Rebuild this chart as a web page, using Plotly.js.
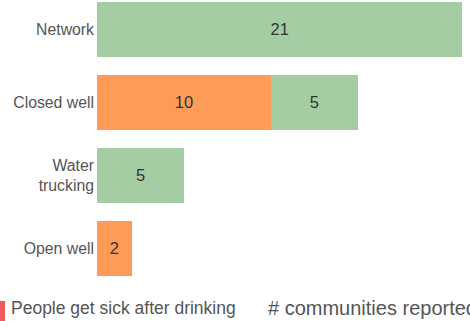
<!DOCTYPE html>
<html>
<head>
<meta charset="utf-8">
<script src="https://cdn.plot.ly/plotly-3.0.1.min.js"></script>
<style>html,body{margin:0;padding:0;background:#fff;overflow:hidden}#chart{width:470px;height:321px}</style>
</head>
<body>
<div id="chart"></div>
<script>
const categories = ["Network", "Closed well", "Water<br>trucking", "Open well"];
const sickValues = [null, 10, null, 2];
const reportedValues = [21, 5, 5, null];
const seriesNames = ["People get sick after drinking", "# communities reported"];
const seriesColors = ["#fe9b56", "#a4cda4"];
const legendSwatchColor = "#ef5a5a";

const FONT = "'Liberation Sans', Arial, sans-serif";

const traces = [
  {
    type: "bar", orientation: "h", name: seriesNames[0],
    y: categories, x: sickValues,
    marker: {color: seriesColors[0]},
    text: sickValues.map(v => v == null ? "" : String(v)),
    textposition: "inside", insidetextanchor: "middle",
    textfont: {family: FONT, size: 16.5, color: "#333333"},
    hoverinfo: "none"
  },
  {
    type: "bar", orientation: "h", name: seriesNames[1],
    y: categories, x: reportedValues,
    marker: {color: seriesColors[1]},
    text: reportedValues.map(v => v == null ? "" : String(v)),
    textposition: "inside", insidetextanchor: "middle",
    textfont: {family: FONT, size: 16.5, color: "#333333"},
    hoverinfo: "none"
  }
];

const plotW = 373, plotH = 285, left = 97;
const px = p => (p - left) / plotW;
const py = p => (plotH - p) / plotH;

const layout = {
  width: 470, height: 321,
  margin: {l: 97, r: 0, t: 0, b: 36, pad: 0},
  paper_bgcolor: "#ffffff", plot_bgcolor: "#ffffff",
  barmode: "stack", bargap: 0.25,
  showlegend: false,
  font: {family: FONT, color: "#555555"},
  xaxis: {range: [0, 21.44], visible: false, showgrid: false, zeroline: false, fixedrange: true},
  yaxis: {
    type: "category", categoryorder: "array", categoryarray: categories,
    range: [3.5, -0.404], showgrid: false, zeroline: false, showline: false,
    ticks: "", tickfont: {family: FONT, size: 15.8, color: "#555555"}, ticklabelstandoff: 2
  },
  shapes: [
    {type: "rect", xref: "paper", yref: "paper", x0: px(0), x1: px(5), y0: py(301), y1: py(322),
     fillcolor: legendSwatchColor, line: {width: 0}}
  ],
  annotations: [
    {xref: "paper", yref: "paper", x: px(9), y: py(308), xanchor: "left", yanchor: "middle",
     text: seriesNames[0], showarrow: false, font: {family: FONT, size: 17.5, color: "#555555"}},
    {xref: "paper", yref: "paper", x: px(266), y: py(308), xanchor: "left", yanchor: "middle",
     text: seriesNames[1], showarrow: false, font: {family: FONT, size: 20, color: "#555555"}}
  ]
};

Plotly.newPlot("chart", traces, layout, {displayModeBar: false, staticPlot: true});
</script>
</body>
</html>
